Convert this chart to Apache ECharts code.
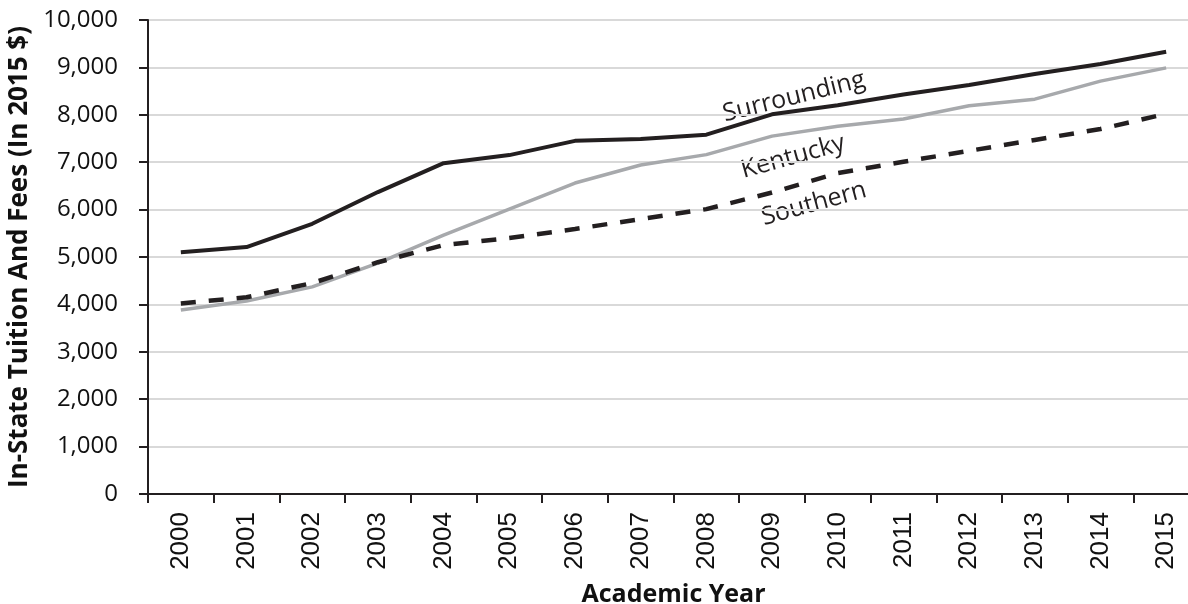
<!DOCTYPE html>
<html>
<head>
  <meta charset="utf-8">
  <script src="https://cdn.jsdelivr.net/npm/echarts@6/dist/echarts.min.js"></script>
  <style>
    body { margin: 0; background-color: white }
  </style>
  <title>In-State Tuition And Fees</title>
  <script type="text/javascript">

    const years = ['2000','2001','2002','2003','2004','2005','2006','2007',
                   '2008','2009','2010','2011','2012','2013','2014','2015'];
    const surrounding = [5100, 5210, 5700, 6370, 6980, 7150, 7450, 7490,
                         7580, 8010, 8200, 8430, 8630, 8860, 9070, 9330];
    const kentucky = [3880, 4070, 4370, 4870, 5460, 6010, 6560, 6940,
                      7160, 7550, 7760, 7910, 8190, 8330, 8710, 8990];
    const southern = [4020, 4150, 4450, 4890, 5250, 5400, 5590, 5800,
                      6010, 6360, 6770, 7010, 7240, 7470, 7700, 8020];

    function init() {
      myChart = echarts.init(document.getElementById('main'));
      const labelFont = { fontFamily: 'Open Sans', fontSize: 25, fill: '#231f20' };
      option = {
        animation: false,
        grid: { left: 148, top: 20, width: 1051, height: 474, outerBoundsMode: 'none' },
        xAxis: {
          type: 'category',
          data: years,
          boundaryGap: true,
          name: 'Academic Year',
          nameLocation: 'middle',
          nameGap: 88,
          nameTextStyle: { fontFamily: 'Open Sans', fontWeight: 'bold', fontSize: 25, color: '#111' },
          axisLine: { lineStyle: { color: '#231f20', width: 2 } },
          axisTick: { show: true, length: 9, lineStyle: { color: '#231f20', width: 2 } },
          axisLabel: {
            rotate: 90, margin: 18, color: '#111',
            fontFamily: 'Liberation Sans', fontSize: 26
          }
        },
        yAxis: {
          type: 'value',
          min: 0, max: 10000, interval: 1000,
          name: 'In-State Tuition And Fees (In 2015 $)',
          nameLocation: 'middle',
          nameGap: 115,
          nameTextStyle: { fontFamily: 'Open Sans', fontWeight: 'bold', fontSize: 26, color: '#111' },
          axisLine: { show: true, lineStyle: { color: '#231f20', width: 2 } },
          axisTick: { show: true, length: 9, lineStyle: { color: '#231f20', width: 2 } },
          axisLabel: {
            margin: 30, color: '#111', fontFamily: 'Open Sans', fontSize: 24,
            formatter: v => v.toLocaleString('en-US')
          },
          splitLine: { lineStyle: { color: '#d9d9d9', width: 2 } }
        },
        series: [
          { name: 'Kentucky', type: 'line', data: kentucky, symbol: 'none',
            lineStyle: { color: '#a7a9ac', width: 3.5 } },
          { name: 'Southern', type: 'line', data: southern, symbol: 'none',
            lineStyle: { color: '#231f20', width: 4.5, type: [15, 13] } },
          { name: 'Surrounding', type: 'line', data: surrounding, symbol: 'none',
            lineStyle: { color: '#231f20', width: 4 } }
        ],
        graphic: [
          { type: 'text', x: 794, y: 97, rotation: 0.245,
            style: Object.assign({ text: 'Surrounding', textAlign: 'center', textVerticalAlign: 'middle' }, labelFont) },
          { type: 'text', x: 793, y: 157, rotation: 0.27,
            style: Object.assign({ text: 'Kentucky', textAlign: 'center', textVerticalAlign: 'middle' }, labelFont) },
          { type: 'text', x: 814, y: 204, rotation: 0.27,
            style: Object.assign({ text: 'Southern', textAlign: 'center', textVerticalAlign: 'middle' }, labelFont) }
        ]
      };
      myChart.setOption(option);
    }
  </script>
</head>
<body onload="init()">
  <div id="main" style="width: 1188px; height: 604px;"></div>
</body>
</html>
